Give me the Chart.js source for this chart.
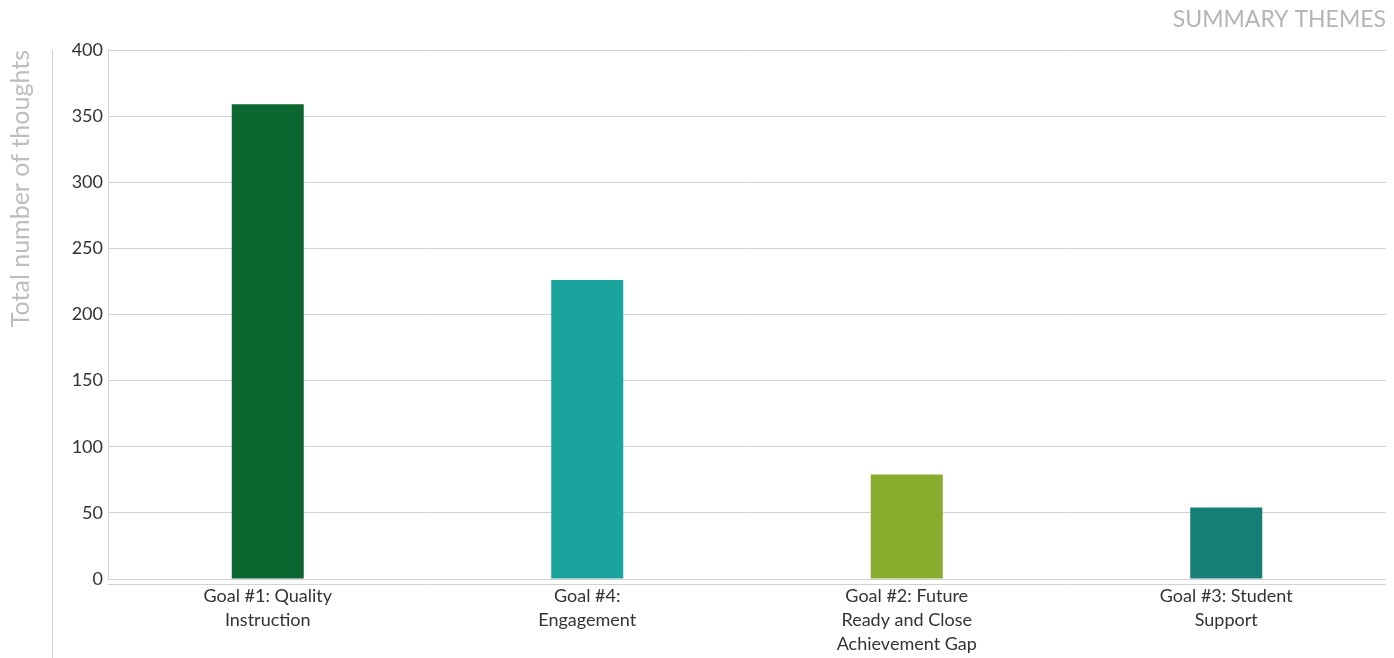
<!DOCTYPE html>
<html>
<head>
<meta charset="utf-8">
<script src="https://cdn.jsdelivr.net/npm/chart.js@4/dist/chart.umd.min.js"></script>
<style>
html,body{margin:0;padding:0;background:#fff;}
#wrap{position:relative;width:1394px;height:658px;}
</style>
</head>
<body>
<div id="wrap"><canvas id="c"></canvas></div>
<script>
const categories = [
  ["Goal #1: Quality", "Instruction"],
  ["Goal #4:", "Engagement"],
  ["Goal #2: Future", "Ready and Close", "Achievement Gap"],
  ["Goal #3: Student", "Support"]
];
const values = [359, 226, 79, 54];
const barColors = ["#0c6630", "#19a59d", "#88ad2e", "#147e77"];
const yTicks = [0, 50, 100, 150, 200, 250, 300, 350, 400];
const chartTitle = "SUMMARY THEMES";
const yTitle = "Total number of thoughts";

const gridColor = "#d2d2d2";

const extraLines = {
  id: "extraLines",
  afterDraw(chart) {
    const ctx = chart.ctx, a = chart.chartArea;
    ctx.save();
    ctx.strokeStyle = gridColor;
    ctx.lineWidth = 1;
    ctx.beginPath();
    ctx.moveTo(a.left, a.bottom + 5.5);
    ctx.lineTo(a.right, a.bottom + 5.5);
    ctx.stroke();
    ctx.beginPath();
    ctx.moveTo(52.5, a.top);
    ctx.lineTo(52.5, chart.height);
    ctx.stroke();
    ctx.restore();
  }
};

new Chart(document.getElementById("c"), {
  type: "bar",
  data: {
    labels: categories,
    datasets: [{
      data: values,
      backgroundColor: barColors,
      borderWidth: 0,
      barPercentage: 0.2254,
      categoryPercentage: 1
    }]
  },
  options: {
    responsive: true,
    maintainAspectRatio: false,
    animation: false,
    layout: { padding: { left: 0, right: 8, top: 0, bottom: 0 } },
    plugins: {
      legend: { display: false },
      tooltip: { enabled: false },
      title: {
        display: true,
        text: chartTitle,
        align: "end",
        color: "#b5b5b5",
        font: { family: "Lato", size: 23, weight: "normal", lineHeight: 1.2 },
        padding: { top: 6, bottom: 16.4 }
      }
    },
    scales: {
      x: {
        grid: { display: false, drawTicks: false },
        border: { display: false },
        ticks: {
          color: "#333333",
          padding: 5,
          maxRotation: 0,
          autoSkip: false,
          font: { family: "Lato", size: 18, lineHeight: 1.3333 }
        },
        afterFit(s) { s.height = 79; }
      },
      y: {
        min: 0,
        max: 400,
        afterBuildTicks(s) { s.ticks = yTicks.map(v => ({ value: v })); },
        grid: { color: gridColor, lineWidth: 1, drawTicks: false },
        border: { display: true, color: gridColor, width: 1 },
        ticks: {
          color: "#333333",
          padding: 5,
          font: { family: "Lato", size: 18 }
        },
        title: {
          display: true,
          text: yTitle,
          align: "end",
          color: "#bdbdbd",
          font: { family: "Lato", size: 25, weight: "normal", lineHeight: 1.2 },
          padding: { top: 6, bottom: 0 }
        },
        afterFit(s) { s.width = 108; }
      }
    }
  },
  plugins: [extraLines]
});
</script>
</body>
</html>
